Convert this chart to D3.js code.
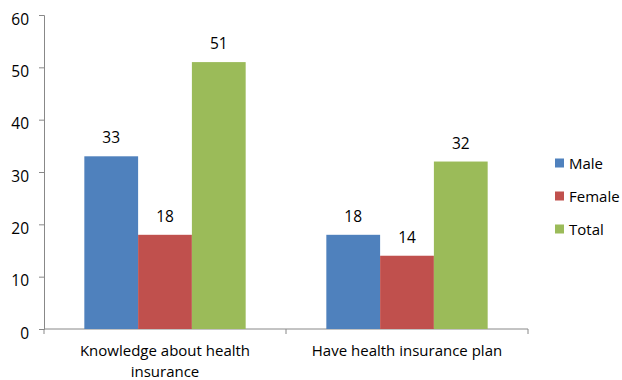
<!DOCTYPE html>
<html>
<head>
<meta charset="utf-8">
<script src="https://cdn.jsdelivr.net/npm/d3@7"></script>
<style>
  body { margin: 0; background: #fff; }
  text { font-family: "Open Sans", "Liberation Sans", sans-serif; fill: #000; }
</style>
</head>
<body>
<svg id="chart" width="622" height="380"></svg>
<script>
const categories = ["Knowledge about health insurance", "Have health insurance plan"];
const categoryLines = [["Knowledge about health", "insurance"], ["Have health insurance plan"]];
const seriesNames = ["Male", "Female", "Total"];
const male = [33, 18];
const female = [18, 14];
const total = [51, 32];
const yTicks = [0, 10, 20, 30, 40, 50, 60];
const colors = ["#4f81bd", "#c0504d", "#9bbb59"];

const seriesValues = [male, female, total];
const svg = d3.select("#chart");
const plotLeft = 44, plotRight = 528, plotTop = 15, plotBottom = 329;

const x = d3.scaleBand().domain(categories).range([plotLeft, plotRight]).paddingInner(0).paddingOuter(0);
const inner = d3.scaleBand().domain(seriesNames).range([0, x.bandwidth()]).paddingInner(0).paddingOuter(0.75);
const y = d3.scaleLinear().domain([0, 60]).range([plotBottom, plotTop]);

// y axis
const yAxis = svg.append("g").attr("transform", `translate(${plotLeft},0)`)
  .call(d3.axisLeft(y).tickValues(yTicks).tickSize(5).tickPadding(10));
yAxis.select(".domain").attr("stroke", "#888");
yAxis.selectAll(".tick line").attr("stroke", "#888");
yAxis.selectAll(".tick text").style("font-size", "15.5px").attr("dy", "0.6em");

// x axis
const xAxis = svg.append("g").attr("transform", `translate(0,${plotBottom})`);
xAxis.append("line").attr("x1", plotLeft).attr("x2", plotRight).attr("stroke", "#888");
const xTickPos = [plotLeft, ...categories.map(c => x(c) + x.bandwidth())];
xAxis.selectAll("line.tk").data(xTickPos).join("line")
  .attr("class", "tk").attr("x1", d => d).attr("x2", d => d)
  .attr("y1", 0).attr("y2", 5).attr("stroke", "#888");

// bars
categories.forEach((c, ci) => {
  const g = svg.append("g").attr("transform", `translate(${x(c)},0)`);
  seriesNames.forEach((s, si) => {
    const v = seriesValues[si][ci];
    g.append("rect")
      .attr("x", inner(s)).attr("width", inner.bandwidth())
      .attr("y", y(v)).attr("height", y(0) - y(v))
      .attr("fill", colors[si]);
    g.append("text")
      .attr("x", inner(s) + inner.bandwidth() / 2)
      .attr("y", y(v) - 13)
      .attr("text-anchor", "middle")
      .style("font-size", "15.5px")
      .text(v);
  });
  const lbl = svg.append("text")
    .attr("x", x(c) + x.bandwidth() / 2)
    .attr("y", plotBottom + 27)
    .attr("text-anchor", "middle")
    .style("font-size", "15px");
  categoryLines[ci].forEach((line, li) => {
    lbl.append("tspan").attr("x", x(c) + x.bandwidth() / 2)
      .attr("dy", li === 0 ? 0 : 20.5).text(line);
  });
});

// legend
const legend = svg.append("g").attr("transform", "translate(555,163)");
seriesNames.forEach((s, i) => {
  const row = legend.append("g").attr("transform", `translate(0,${i * 33})`);
  row.append("rect").attr("x", 0).attr("y", -4.5).attr("width", 9).attr("height", 9).attr("fill", colors[i]);
  row.append("text").attr("x", 14).attr("y", 5.5).style("font-size", "15px").text(s);
});
</script>
</body>
</html>
